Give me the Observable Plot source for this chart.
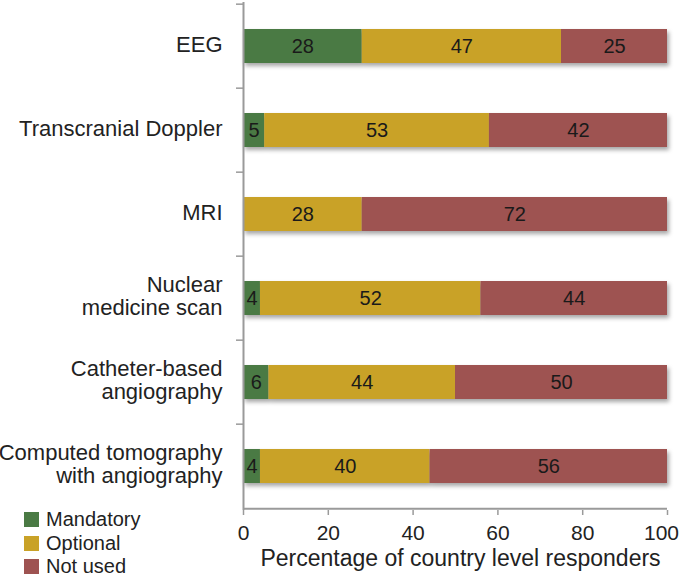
<!DOCTYPE html>
<html>
<head>
<meta charset="utf-8">
<script src="https://cdn.jsdelivr.net/npm/d3@7"></script>
<script src="https://cdn.jsdelivr.net/npm/@observablehq/plot@0.6"></script>
<style>
  html, body { margin: 0; padding: 0; background: #fff; }
  #wrap { position: relative; width: 680px; height: 579px; font-family: "Liberation Sans", Arial, sans-serif; }
  #legend { position: absolute; left: 24px; top: 508px; font-size: 20px; color: #222; line-height: 23.5px; }
  #legend .item { display: flex; align-items: center; white-space: nowrap; }
  #legend .sw { width: 15px; height: 15px; margin-right: 7px; display: inline-block; }
</style>
</head>
<body>
<div id="wrap"><div id="legend"></div></div>
<script>
const categories = ["EEG", "Transcranial Doppler", "MRI", "Nuclear medicine scan", "Catheter-based angiography", "Computed tomography with angiography"];
const categoryLabels = ["EEG", "Transcranial Doppler", "MRI", "Nuclear\nmedicine scan", "Catheter-based\nangiography", "Computed tomography\nwith angiography"];
const seriesNames = ["Mandatory", "Optional", "Not used"];
const mandatory = [28, 5, 0, 4, 6, 4];
const optional = [47, 53, 28, 52, 44, 40];
const notUsed = [25, 42, 72, 44, 50, 56];
const seriesColors = ["#4a7a44", "#c9a227", "#9e5351"];
const xTicks = [0, 20, 40, 60, 80, 100];
const xLabel = "Percentage of country level responders";

const seriesValues = [mandatory, optional, notUsed];
const data = [];
seriesNames.forEach((s, si) => {
  categories.forEach((c, ci) => {
    data.push({category: c, status: s, value: seriesValues[si][ci]});
  });
});
const labelOf = new Map(categories.map((c, i) => [c, categoryLabels[i]]));

const W = 680, H = 579, mT = 2, mB = 69, mL = 243, mR = 13;
const step = (H - mT - mB) / categories.length;
const font = "'Liberation Sans', Arial, sans-serif";
const lastTick = xTicks[xTicks.length - 1];

const chart = Plot.plot({
  width: W,
  height: H,
  marginTop: mT,
  marginBottom: mB,
  marginLeft: mL,
  marginRight: mR,
  style: {fontFamily: font, color: "#222", background: "transparent"},
  x: {domain: [0, 100], ticks: xTicks},
  y: {domain: categories, padding: 0},
  color: {domain: seriesNames, range: seriesColors},
  marks: [
    Plot.barX(data, Plot.stackX({x: "value", y: "category", fill: "status", insetTop: 25, insetBottom: 25, order: seriesNames})),
    Plot.textX(data.filter(d => d.value > 0), Plot.stackX({x: "value", y: "category", z: "status", text: d => String(d.value), order: seriesNames, fontSize: 20, fill: "#1a1a1a"})),
    Plot.ruleX([0], {stroke: "#9a9a9a", strokeWidth: 2}),
    Plot.ruleY([categories[categories.length - 1]], {x1: 0, x2: 100, dy: step / 2, stroke: "#9a9a9a", strokeWidth: 2}),
    Plot.ruleY(categories, {x1: -7 / 4.24, x2: 0, dy: -step / 2, stroke: "#9a9a9a", strokeWidth: 1.5}),
    Plot.axisY({tickSize: 0, tickPadding: 21, fontSize: 22, lineHeight: 1.05, dy: -2, tickFormat: d => labelOf.get(d), label: null, fill: "#222"}),
    Plot.axisX({ticks: xTicks, tickSize: 5, text: null, label: null, stroke: "#9a9a9a", strokeWidth: 1.5}),
    Plot.axisX({ticks: xTicks.slice(0, -1), tickSize: 0, tickPadding: 15, fontSize: 21, label: null, fill: "#222"}),
    Plot.axisX({ticks: [lastTick], tickSize: 0, tickPadding: 15, fontSize: 21, dx: -6, label: null, fill: "#222"}),
    Plot.text([xLabel], {frameAnchor: "bottom", text: d => d, dy: 55, dx: 5, fontSize: 23, fill: "#222"})
  ]
});

chart.querySelectorAll('g[aria-label="bar"]').forEach(g => {
  g.style.filter = "drop-shadow(2px 3px 2px rgba(0,0,0,0.35))";
});

document.getElementById("wrap").insertBefore(chart, document.getElementById("legend"));

const legend = document.getElementById("legend");
seriesNames.forEach((s, i) => {
  const item = document.createElement("div");
  item.className = "item";
  const sw = document.createElement("span");
  sw.className = "sw";
  sw.style.background = seriesColors[i];
  item.appendChild(sw);
  item.appendChild(document.createTextNode(s));
  legend.appendChild(item);
});
</script>
</body>
</html>
